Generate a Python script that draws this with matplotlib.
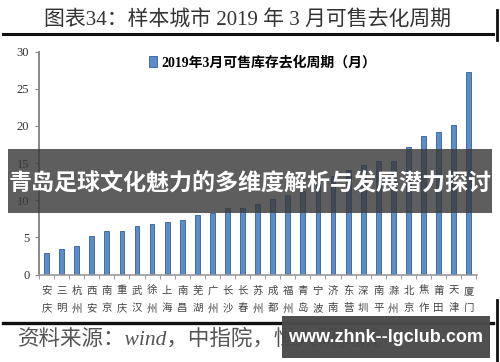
import matplotlib
matplotlib.use('Agg')
import matplotlib.pyplot as plt
from matplotlib.patches import Rectangle
from matplotlib.lines import Line2D

plt.rcParams['font.family'] = ['Noto Sans CJK SC', 'DejaVu Sans']
plt.rcParams['axes.unicode_minus'] = False

# 数据
cities = ['安庆', '三明', '杭州', '西安', '南京', '重庆', '武汉', '徐州', '上海', '南昌',
          '芜湖', '广州', '长沙', '长春', '苏州', '成都', '福州', '青岛', '宁波', '济南',
          '东营', '深圳', '南平', '滁州', '北京', '焦作', '莆田', '天津', '厦门']
months = [2.9, 3.5, 3.8, 5.2, 5.9, 5.9, 6.5, 6.8, 7.1, 7.3,
          8.0, 8.3, 9.0, 9.0, 9.5, 10.1, 10.7, 11.2, 12.2, 13.3,
          14.1, 14.8, 15.3, 15.3, 17.2, 18.6, 19.2, 20.1, 27.2]
yticks = [0, 5, 10, 15, 20, 25, 30]
series_name = '2019年3月可售库存去化周期（月）'

W, H = 500, 362
fig = plt.figure(figsize=(W / 100, H / 100), dpi=100)
fig.patch.set_facecolor('white')

def fx(px):
    return px / W

def fy(py):
    return 1 - py / H

serif_cjk = ['Liberation Serif', 'Noto Sans CJK SC']

# 标题 + 下划线
fig.text(fx(248), fy(21), '图表34：样本城市 2019 年 3 月可售去化周期',
         ha='center', va='center', fontsize=15, color='#333333', family=serif_cjk)
fig.add_artist(Line2D([fx(3), fx(493)], [fy(34), fy(34)], color='#111111', lw=2.2))

# 主图
ax = fig.add_axes([fx(39), fy(274.5), fx(477 - 39), (274.5 - 51.7) / H])
x = list(range(len(cities)))
bars = ax.bar(x, months, width=0.32, color='#5b8dc9', edgecolor='#2e5f99',
              linewidth=0.6, label=series_name, zorder=2)
ax.set_xlim(-0.42, len(cities) - 0.45)
ax.set_ylim(0, 30)
ax.set_yticks(yticks)
ax.set_yticklabels([str(v) for v in yticks], family=['Liberation Serif'],
                   fontsize=9, color='#333333')
ax.set_xticks(x)
ax.set_xticklabels(['\n'.join(c) for c in cities], fontsize=7.5, color='#444444',
                   linespacing=1.95)
ax.set_xticks([i - 0.5 for i in range(len(cities) + 1)], minor=True)
ax.tick_params(axis='x', which='major', length=0, pad=8)
ax.tick_params(axis='x', which='minor', length=3, color='#888888', direction='out')
ax.tick_params(axis='y', length=3, color='#888888', direction='out', pad=4)
for s in ['top', 'right']:
    ax.spines[s].set_visible(False)
ax.spines['left'].set_color('#888888')
ax.spines['left'].set_linewidth(1.4)
ax.spines['bottom'].set_color('#999999')
ax.spines['bottom'].set_linewidth(1.2)

ax.legend(loc='upper center', bbox_to_anchor=(0.51, 1.04), frameon=False,
          handlelength=0.6, handleheight=0.9, handletextpad=0.3,
          prop={'family': serif_cjk, 'size': 10, 'weight': 'bold'})

# 底部线 + 来源
fig.add_artist(Line2D([fx(3), fx(493)], [fy(322.5), fy(322.5)], color='#111111', lw=2.4))
fig.text(fx(18), fy(339), '资料来源：wind，中指院，恒大研究院',
         ha='left', va='center', fontsize=15.5, color='#555555',
         family=serif_cjk, style='italic')

# 右侧边框
fig.add_artist(Line2D([fx(497), fx(497)], [fy(10), fy(40)], color='#111111', lw=2))
fig.add_artist(Line2D([fx(497), fx(497)], [fy(300), fy(362)], color='#111111', lw=2))

# 横幅
fig.add_artist(Rectangle((fx(8), fy(213)), fx(484), (213 - 149) / H,
                         transform=fig.transFigure, facecolor='#3a3a3a',
                         alpha=0.82, edgecolor='none', zorder=5))
fig.text(fx(250), fy(184), '青岛足球文化魅力的多维度解析与发展潜力探讨',
         ha='center', va='center', fontsize=16.6, color='white',
         fontweight='bold', zorder=6)

# 网址水印
fig.add_artist(Rectangle((fx(282), fy(358)), fx(208), (358 - 316) / H,
                         transform=fig.transFigure, facecolor='#4a4a4a',
                         alpha=0.97, edgecolor='none', zorder=5))
fig.text(fx(386), fy(338), 'www.zhnk--lgclub.com', ha='center', va='center',
         fontsize=13, color='white', fontweight='bold',
         family=['Liberation Sans'], zorder=6)

fig.savefig('out.png', dpi=100)
